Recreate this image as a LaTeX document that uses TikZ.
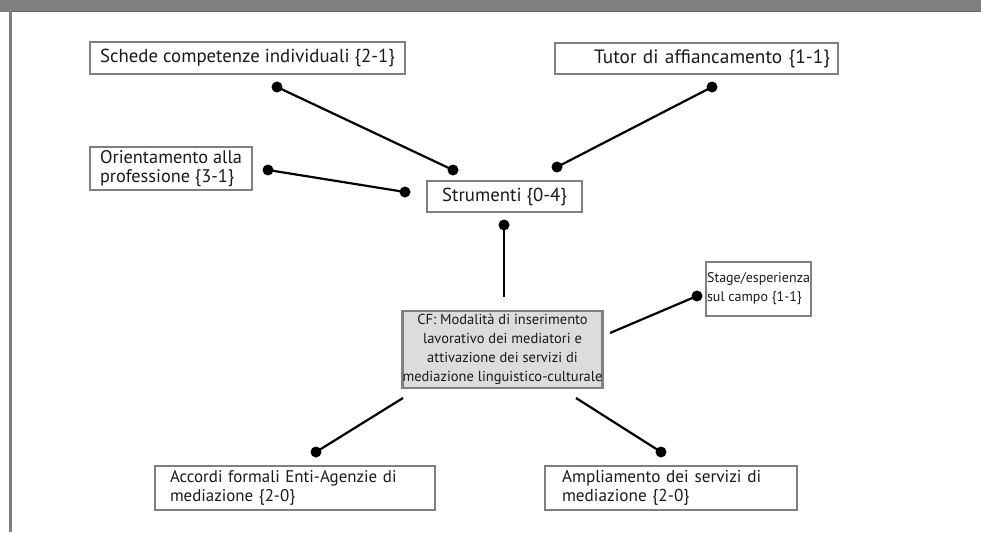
\documentclass[tikz,border=0pt]{standalone}
\usepackage{fontspec}
\setmainfont{PT Sans}
\usetikzlibrary{calc}
\definecolor{framegray}{HTML}{7F7F7F}
\definecolor{boxgray}{HTML}{808080}
\definecolor{cffill}{HTML}{DCDCDC}
\definecolor{ink}{HTML}{1A1A1A}
\begin{document}
\begin{tikzpicture}[x=1pt,y=-1pt,
  fs/.style={font=\fontsize{#1}{19}\selectfont},
  every node/.style={fs=18.8, text=ink},
  box/.style={draw=boxgray, line width=2.8pt, fill=white, inner sep=0pt, outer sep=0pt},
  link/.style={draw=black, line width=2.2pt},
  dotend/.style={fill=black}
]
\useasboundingbox (0,0) rectangle (981,532);
\fill[white] (0,0) rectangle (981,532);
% header band and left rule
\fill[framegray] (0,0) rectangle (981,12);
\fill[black!60] (12,11) rectangle (981,12.5);
\fill[framegray] (9,0) rectangle (12,532);

% boxes
\node[box, minimum width=315pt, minimum height=32pt] (schede) at (247.5,58) {Schede competenze individuali \{2-1\}};
\node[box, fs=19.3, minimum width=283pt, minimum height=31pt, text width=267pt, align=right] (tutor) at (696.5,58.5) {Tutor di affiancamento \{1-1\}};
\node[box, fs=18.3, minimum width=162pt, minimum height=43pt, align=left] (orient) at (171,168.5) {Orientamento alla\\professione \{3-1\}};
\node[box, minimum width=155pt, minimum height=31pt] (strum) at (504.5,196.5) {Strumenti \{0-4\}};
\node[box, fill=cffill, fs=14.5, minimum width=199pt, minimum height=77pt, align=center] (cf) at (502.5,349.5) {CF: Modalità di inserimento\\lavorativo dei mediatori e\\attivazione dei servizi di\\mediazione linguistico-culturale};
\node[box, fs=14, minimum width=105pt, minimum height=54pt, align=left] (stage) at (758.5,289) {Stage/esperienza\\sul campo \{1-1\}};
\node[box, fs=16.9, minimum width=280pt, minimum height=44pt, text width=250pt, align=left] (accordi) at (295,488) {Accordi formali Enti-Agenzie di\\mediazione \{2-0\}};
\node[box, fs=17.2, minimum width=252pt, minimum height=44pt, text width=218pt, align=left] (ampli) at (671,488) {Ampliamento dei servizi di\\mediazione \{2-0\}};

% connector end points
\coordinate (schedeEnd) at (277,87);
\coordinate (strumA) at (453,170);
\coordinate (tutorEnd) at (712,87);
\coordinate (strumB) at (557,167);
\coordinate (orientEnd) at (268,170);
\coordinate (strumC) at (405,192);
\coordinate (strumD) at (504,225);
\coordinate (cfTop) at (504,297);
\coordinate (cfRight) at (610,333);
\coordinate (stageEnd) at (697,296);
\coordinate (cfLeft) at (403,398);
\coordinate (accordiEnd) at (316,452);
\coordinate (cfLow) at (576,398);
\coordinate (ampliEnd) at (661,452);

% connectors
\draw[link] (schedeEnd) -- (strumA);
\draw[link] (tutorEnd) -- (strumB);
\draw[link] (orientEnd) -- (strumC);
\draw[link] (strumD) -- (cfTop);
\draw[link] (cfRight) -- (stageEnd);
\draw[link] (cfLeft) -- (accordiEnd);
\draw[link] (cfLow) -- (ampliEnd);

% dot ends
\foreach \p in {schedeEnd,strumA,tutorEnd,strumB,orientEnd,strumC,strumD,stageEnd,accordiEnd,ampliEnd}
  \fill[dotend] (\p) circle (5.5pt);
\end{tikzpicture}
\end{document}
